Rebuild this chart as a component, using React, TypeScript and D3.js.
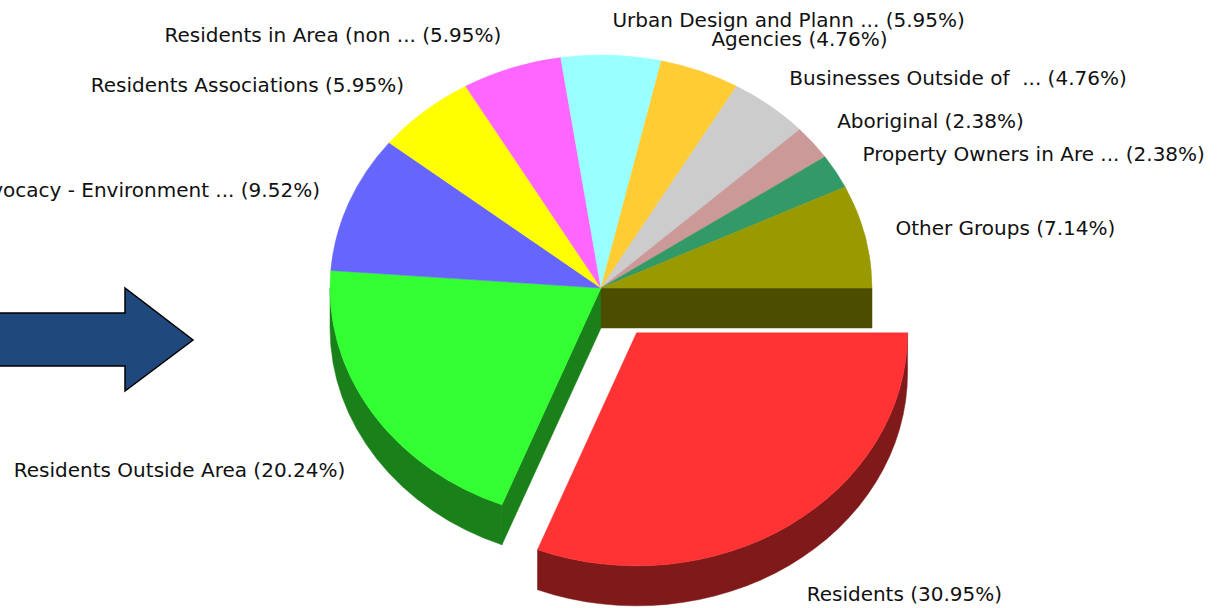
import React from "react";
import * as d3 from "d3";

// ---- data ----
const categories = [
  "Residents",
  "Residents Outside Area",
  "Advocacy - Environment ...",
  "Residents Associations",
  "Residents in Area (non ...",
  "Urban Design and Plann ...",
  "Agencies",
  "Businesses Outside of  ...",
  "Aboriginal",
  "Property Owners in Are ...",
  "Other Groups",
];
const shares = [30.95, 20.24, 9.52, 5.95, 5.95, 5.95, 4.76, 4.76, 2.38, 2.38, 7.14];
const colors = [
  "#FF3333",
  "#33FF33",
  "#6666FF",
  "#FFFF00",
  "#FF66FF",
  "#99FFFF",
  "#FFCC33",
  "#CCCCCC",
  "#CC9999",
  "#339966",
  "#999900",
];
const explodedCategory = "Residents";

// ---- layout ----
const W = 1230;
const H = 608;
const CX = 601;
const CY = 288;
const RX = 271;
const RY = 233;
const DEPTH = 40;
const EXPLODE = 0.233;
const LRX = 302;
const LRY = 268;
const fmt = d3.format(".2f");

type Slice = {
  i: number;
  t0: number;
  t1: number;
  ox: number;
  oy: number;
  color: string;
  side: string;
};

function pt(s: Slice, t: number, dy = 0): [number, number] {
  return [s.ox + RX * Math.cos(t), s.oy + RY * Math.sin(t) + dy];
}

function topPath(s: Slice): string {
  const p0 = pt(s, s.t0);
  const p1 = pt(s, s.t1);
  const large = s.t1 - s.t0 > Math.PI ? 1 : 0;
  return `M${s.ox},${s.oy}L${p0[0]},${p0[1]}A${RX},${RY} 0 ${large} 1 ${p1[0]},${p1[1]}Z`;
}

function curvedWall(s: Slice): string | null {
  // visible front part: screen angles in [0, PI] (mod 2PI)
  const ranges: [number, number][] = [];
  for (const k of [-1, 0, 1]) {
    const lo = Math.max(s.t0, k * 2 * Math.PI);
    const hi = Math.min(s.t1, k * 2 * Math.PI + Math.PI);
    if (hi > lo + 1e-6) ranges.push([lo, hi]);
  }
  if (!ranges.length) return null;
  return ranges
    .map(([lo, hi]) => {
      const a = pt(s, lo);
      const b = pt(s, hi);
      const bb = pt(s, hi, DEPTH);
      const ab = pt(s, lo, DEPTH);
      return `M${a[0]},${a[1]}A${RX},${RY} 0 0 1 ${b[0]},${b[1]}L${bb[0]},${bb[1]}A${RX},${RY} 0 0 0 ${ab[0]},${ab[1]}Z`;
    })
    .join("");
}

function radialWall(s: Slice, t: number): string {
  const p = pt(s, t);
  return `M${s.ox},${s.oy}L${p[0]},${p[1]}L${p[0]},${p[1] + DEPTH}L${s.ox},${s.oy + DEPTH}Z`;
}

export default function App() {
  const pie = d3
    .pie<number>()
    .sort(null)
    .value((d) => d)
    .startAngle(Math.PI / 2)
    .endAngle(Math.PI / 2 + 2 * Math.PI);
  const arcs = pie(shares);

  const slices: Slice[] = arcs.map((a, i) => {
    const t0 = a.startAngle - Math.PI / 2;
    const t1 = a.endAngle - Math.PI / 2;
    const mid = (t0 + t1) / 2;
    const ex = categories[i] === explodedCategory ? EXPLODE : 0;
    return {
      i,
      t0,
      t1,
      ox: CX + ex * RX * Math.cos(mid),
      oy: CY + ex * RY * Math.sin(mid),
      color: colors[i],
      side: d3.color(colors[i])!.darker(Math.log(0.5) / Math.log(0.7)).formatHex(),
    };
  });

  const n = slices.length;
  const walls: { d: string; fill: string; key: string }[] = [];
  slices.forEach((s, i) => {
    const prev = slices[(i - 1 + n) % n];
    const next = slices[(i + 1) % n];
    const differs = (o: Slice) => Math.abs(o.ox - s.ox) > 0.5 || Math.abs(o.oy - s.oy) > 0.5;
    if (Math.cos(s.t0) < 0 && differs(prev))
      walls.push({ d: radialWall(s, s.t0), fill: s.side, key: `rs${i}` });
    if (Math.cos(s.t1) > 0 && differs(next))
      walls.push({ d: radialWall(s, s.t1), fill: s.side, key: `re${i}` });
    const cw = curvedWall(s);
    if (cw) walls.push({ d: cw, fill: s.side, key: `c${i}` });
  });

  const labels = slices.map((s) => {
    const mid = (s.t0 + s.t1) / 2;
    const c = Math.cos(mid);
    const sn = Math.sin(mid);
    const x = s.ox + LRX * c;
    const yMid = s.oy + LRY * sn + (sn > 0 ? DEPTH : 0);
    return {
      x,
      y: yMid + 7,
      anchor: c >= 0 ? "start" : "end",
      text: `${categories[s.i]} (${fmt(shares[s.i])}%)`,
    };
  });

  return (
    <svg
      width={W}
      height={H}
      style={{ position: "absolute", left: 0, top: 0, background: "#fff" }}
    >
      <polygon
        points="-6,313 125,313 125,288 193,340 125,391 125,366 -6,366"
        fill="#1F497D"
        stroke="#000"
        strokeWidth={1.5}
      />
      {walls.map((w) => (
        <path key={w.key} d={w.d} fill={w.fill} stroke={w.fill} strokeWidth={0.5} />
      ))}
      {slices.map((s) => (
        <path key={`t${s.i}`} d={topPath(s)} fill={s.color} stroke={s.color} strokeWidth={0.5} />
      ))}
      {labels.map((l, i) => (
        <text
          key={`l${i}`}
          x={l.x}
          y={l.y}
          textAnchor={l.anchor}
          fontFamily="DejaVu Sans"
          fontSize={20}
          fill="#111"
          style={{ whiteSpace: "pre" }}
        >
          {l.text}
        </text>
      ))}
    </svg>
  );
}
